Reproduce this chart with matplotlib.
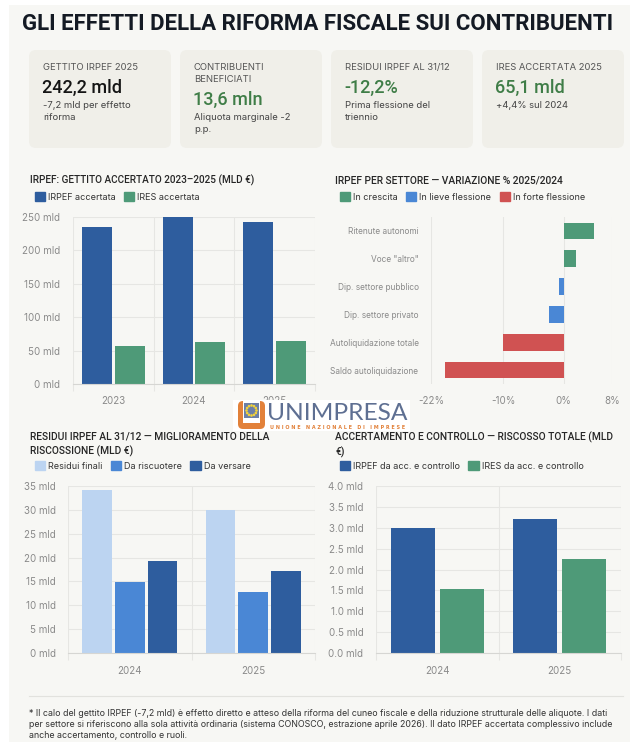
import matplotlib
matplotlib.use("Agg")
import matplotlib.pyplot as plt
from matplotlib.patches import FancyBboxPatch, Rectangle, Patch, Circle
import numpy as np

# ---- data ----
years_top = ["2023", "2024", "2025"]
irpef_acc = [234.5, 249.4, 242.2]
ires_acc = [56.5, 62.4, 65.1]

sectors = ["Ritenute autonomi", 'Voce "altro"', "Dip. settore pubblico",
           "Dip. settore privato", "Autoliquidazione totale", "Saldo autoliquidazione"]
sector_var = [5.0, 2.1, -0.8, -2.5, -10.1, -19.6]
sector_group = ["up", "up", "light", "light", "strong", "strong"]

years_bot = ["2024", "2025"]
residui_finali = [34.1, 29.9]
da_riscuotere = [14.8, 12.7]
da_versare = [19.3, 17.2]

irpef_ctrl = [3.0, 3.2]
ires_ctrl = [1.53, 2.24]

kpi_labels = ["GETTITO IRPEF 2025", "CONTRIBUENTI\nBENEFICIATI", "RESIDUI IRPEF AL 31/12", "IRES ACCERTATA 2025"]
kpi_values = ["242,2 mld", "13,6 mln", "-12,2%", "65,1 mld"]
kpi_notes = ["-7,2 mld per effetto\nriforma", "Aliquota marginale -2\np.p.", "Prima flessione del\ntriennio", "+4,4% sul 2024"]

# ---- style ----
BLUE = "#2e5d9e"
GREEN = "#4e9a78"
RED = "#d05252"
MID_BLUE = "#4a87d5"
LIGHT_BLUE = "#bcd4f1"
VAL_GREEN = "#3f7d47"
GRID = "#e6e6e3"
TICK = "#8a8a8a"
plt.rcParams["font.family"] = ["Inter", "DejaVu Sans"]

W, H = 640, 754
fig = plt.figure(figsize=(W / 100, H / 100), dpi=100)
fig.patch.set_facecolor("white")
renderer = fig.canvas.get_renderer()


def fit_width(txt, width_px):
    # shrink/grow a text so it spans the given width in pixels
    w = txt.get_window_extent(renderer=renderer).width
    txt.set_fontsize(txt.get_fontsize() * width_px / w)


# background axes in pixel coordinates
bg = fig.add_axes([0, 0, 1, 1])
bg.set_xlim(0, W)
bg.set_ylim(H, 0)
bg.axis("off")
bg.add_patch(Rectangle((9, 5), 621, 737, facecolor="#f7f7f4", edgecolor="none"))

title = bg.text(22, 24.5, "GLI EFFETTI DELLA RIFORMA FISCALE SUI CONTRIBUENTI", fontsize=17,
                fontweight="bold", color="#141a24", va="center", ha="left",
                family=["Roboto", "DejaVu Sans"])
fit_width(title, 593)

card_x = [29, 180, 331, 482]
for i, x in enumerate(card_x):
    bg.add_patch(FancyBboxPatch((x, 50), 142, 98, boxstyle="round,pad=0,rounding_size=7",
                                facecolor="#f0efe9", edgecolor="none"))
    lab = kpi_labels[i]
    nl = lab.count("\n")
    bg.text(x + 14, 63, lab, fontsize=6.8, color="#555555", va="top", ha="left", linespacing=1.5)
    vy = 88 + 12 * nl
    col = "#151515" if i == 0 else VAL_GREEN
    bg.text(x + 13, vy, kpi_values[i], fontsize=13, color=col, va="center", ha="left",
            fontweight="medium", family=["Roboto", "DejaVu Sans"])
    bg.text(x + 14, vy + 13, kpi_notes[i], fontsize=6.8, color="#444444", va="top", ha="left",
            linespacing=1.45)


def px_axes(x0, y0, x1, y1):
    ax = fig.add_axes([x0 / W, 1 - y1 / H, (x1 - x0) / W, (y1 - y0) / H])
    ax.set_facecolor("none")
    for s in ax.spines.values():
        s.set_visible(False)
    return ax


def style_vbar(ax, ncat, ymax, ystep, fmt):
    ax.set_xlim(-0.5, ncat - 0.5)
    ax.set_ylim(0, ymax)
    ax.set_yticks(np.arange(0, ymax + ystep / 2, ystep))
    ax.set_yticklabels([fmt(v) for v in np.arange(0, ymax + ystep / 2, ystep)])
    ax.set_xticks(range(ncat))
    ax.set_xticks(np.arange(-0.5, ncat, 1), minor=True)
    ax.grid(axis="y", color=GRID, lw=0.8)
    ax.grid(axis="x", which="minor", color=GRID, lw=0.8)
    ax.tick_params(axis="y", length=0, labelsize=7, colors=TICK, pad=9)
    ax.tick_params(axis="x", which="major", length=0, labelsize=7, colors=TICK, pad=9)
    ax.tick_params(axis="x", which="minor", length=5, color=GRID, width=0.8)
    ax.spines["bottom"].set_visible(True)
    ax.spines["bottom"].set_color("#d6d6d3")
    ax.set_axisbelow(True)


def legend(ax, handles, x, y):
    ax.legend(handles=handles, loc="center left", bbox_to_anchor=(x / W, 1 - y / H),
              bbox_transform=fig.transFigure, ncol=len(handles), frameon=False,
              fontsize=6.5, handlelength=1.15, handleheight=1.15, handletextpad=0.35,
              columnspacing=0.9, borderpad=0, labelcolor="#333333")


def chart_title(x, y, s, width=None):
    t = bg.text(x, y, s, fontsize=7.3, fontweight="medium", color="#262626", va="top",
                ha="left", linespacing=1.35, family=["Roboto", "DejaVu Sans"])
    if width:
        fit_width(t, width)


# ---- chart 1 ----
ax1 = px_axes(73, 217, 315, 384)
xi = np.arange(len(years_top))
ax1.bar(xi - 0.2025, irpef_acc, 0.37, color=BLUE)
ax1.bar(xi + 0.2025, ires_acc, 0.37, color=GREEN)
style_vbar(ax1, 3, 250, 50, lambda v: f"{v:.0f} mld")
ax1.set_xticklabels(years_top)
chart_title(30, 175, "IRPEF: GETTITO ACCERTATO 2023–2025 (MLD €)", 224)
legend(ax1, [Patch(color=BLUE, label="IRPEF accertata"), Patch(color=GREEN, label="IRES accertata")], 30, 197)

# ---- chart 2 ----
ax2 = px_axes(431, 217, 612, 384)
grp_col = {"up": GREEN, "light": MID_BLUE, "strong": RED}
yi = np.arange(len(sectors))
ax2.barh(yi, sector_var, 0.6, color=[grp_col[g] for g in sector_group])
ax2.set_ylim(len(sectors) - 0.5, -0.5)
ax2.set_xlim(-22, 8)
ax2.set_xticks([-22, -10, 0, 8])
ax2.set_xticklabels(["-22%", "-10%", "0%", "8%"])
ax2.set_yticks(yi)
ax2.set_yticklabels(sectors)
ax2.grid(axis="x", color=GRID, lw=0.8)
ax2.set_axisbelow(True)
ax2.tick_params(axis="both", length=0, labelsize=7, colors=TICK)
ax2.tick_params(axis="y", labelsize=6.0, pad=9)
ax2.tick_params(axis="x", pad=9)
chart_title(335, 175, "IRPEF PER SETTORE — VARIAZIONE % 2025/2024", 230)
legend(ax2, [Patch(color=GREEN, label="In crescita"), Patch(color=MID_BLUE, label="In lieve flessione"),
             Patch(color=RED, label="In forte flessione")], 335, 197)

# ---- chart 3 ----
ax3 = px_axes(68, 486, 315, 653)
xb = np.arange(len(years_bot))
ax3.bar(xb - 0.265, residui_finali, 0.24, color=LIGHT_BLUE)
ax3.bar(xb, da_riscuotere, 0.24, color=MID_BLUE)
ax3.bar(xb + 0.265, da_versare, 0.24, color=BLUE)
style_vbar(ax3, 2, 35, 5, lambda v: f"{v:.0f} mld")
ax3.set_xticklabels(years_bot)
chart_title(30, 432, "RESIDUI IRPEF AL 31/12 — MIGLIORAMENTO DELLA\nRISCOSSIONE (MLD €)", 239)
legend(ax3, [Patch(color=LIGHT_BLUE, label="Residui finali"), Patch(color=MID_BLUE, label="Da riscuotere"),
             Patch(color=BLUE, label="Da versare")], 30, 466)

# ---- chart 4 ----
ax4 = px_axes(376, 486, 621, 653)
ax4.bar(xb - 0.2, irpef_ctrl, 0.357, color=BLUE)
ax4.bar(xb + 0.2, ires_ctrl, 0.357, color=GREEN)
style_vbar(ax4, 2, 4.0, 0.5, lambda v: f"{v:.1f} mld")
ax4.set_xticklabels(years_bot)
chart_title(335, 432, "ACCERTAMENTO E CONTROLLO — RISCOSSO TOTALE (MLD\n€)", 280)
legend(ax4, [Patch(color=BLUE, label="IRPEF da acc. e controllo"),
             Patch(color=GREEN, label="IRES da acc. e controllo")], 335, 466)

# ---- footer ----
bg.plot([29, 623], [696, 696], color="#e2e2de", lw=0.8)
footer = ("* Il calo del gettito IRPEF (-7,2 mld) è effetto diretto e atteso della riforma del cuneo fiscale e della riduzione strutturale delle aliquote. I dati\n"
          "per settore si riferiscono alla sola attività ordinaria (sistema CONOSCO, estrazione aprile 2026). Il dato IRPEF accertata complessivo include\n"
          "anche accertamento, controllo e ruoli.")
ft = bg.text(29, 709, footer, fontsize=6.6, color="#333333", va="top", ha="left", linespacing=1.3)
fit_width(ft, 586)

# ---- logo ----
lg = fig.add_axes([233 / W, 1 - 431 / H, 177 / W, 31 / H])
lg.set_xlim(233, 410)
lg.set_ylim(431, 400)
lg.axis("off")
lg.add_patch(Rectangle((233, 400), 177, 31, facecolor="white", edgecolor="none"))
lg.add_patch(FancyBboxPatch((238, 401), 27, 28, boxstyle="round,pad=0,rounding_size=5",
                            facecolor="#e2813a", edgecolor="none"))
lg.add_patch(Rectangle((243, 401), 17, 22, facecolor="white", edgecolor="none"))
lg.add_patch(Rectangle((244, 403), 15, 15, facecolor="#6d7fa6", edgecolor="none"))
for a in np.linspace(0, 2 * np.pi, 12, endpoint=False):
    lg.add_patch(Circle((251.5 + 5 * np.cos(a), 410.5 + 5 * np.sin(a)), 0.6, color="#f2d23a"))
logo = lg.text(267, 419.5, "UNIMPRESA", fontsize=16, color="#5e6f92", va="baseline", ha="left",
               family=["Lato", "DejaVu Sans"])
fit_width(logo, 140)
sub = lg.text(270, 427, " ".join("UNIONE NAZIONALE DI IMPRESE"), fontsize=3.3, color="#e2813a",
              va="center", ha="left", fontweight="bold", family=["DejaVu Sans"])
fit_width(sub, 134)

fig.savefig("out.png", dpi=100)
